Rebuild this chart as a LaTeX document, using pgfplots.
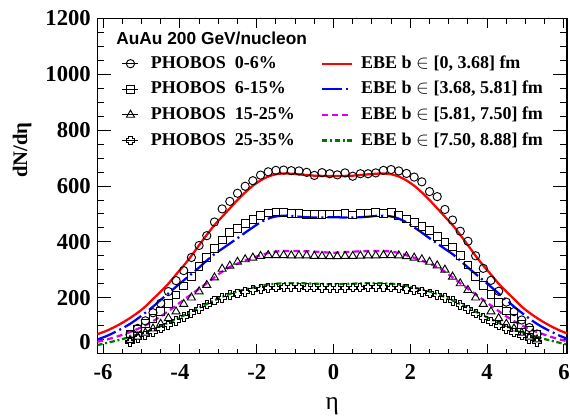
\documentclass[border=0pt]{standalone}
\usepackage{fontspec}
\setmainfont{Liberation Serif}
\newfontfamily\helv{Liberation Sans}
\usepackage{pgfplots}
\pgfplotsset{compat=1.18}

\definecolor{ebered}{RGB}{255,0,0}
\definecolor{ebeblue}{RGB}{0,0,255}
\definecolor{ebemag}{RGB}{215,0,235}
\definecolor{ebegreen}{RGB}{0,120,0}

\pgfdeclareplotmark{ocross}{%
  \pgfpathmoveto{\pgfqpoint{-0.36\pgfplotmarksize}{\pgfplotmarksize}}%
  \pgfpathlineto{\pgfqpoint{0.36\pgfplotmarksize}{\pgfplotmarksize}}%
  \pgfpathlineto{\pgfqpoint{0.36\pgfplotmarksize}{0.36\pgfplotmarksize}}%
  \pgfpathlineto{\pgfqpoint{\pgfplotmarksize}{0.36\pgfplotmarksize}}%
  \pgfpathlineto{\pgfqpoint{\pgfplotmarksize}{-0.36\pgfplotmarksize}}%
  \pgfpathlineto{\pgfqpoint{0.36\pgfplotmarksize}{-0.36\pgfplotmarksize}}%
  \pgfpathlineto{\pgfqpoint{0.36\pgfplotmarksize}{-\pgfplotmarksize}}%
  \pgfpathlineto{\pgfqpoint{-0.36\pgfplotmarksize}{-\pgfplotmarksize}}%
  \pgfpathlineto{\pgfqpoint{-0.36\pgfplotmarksize}{-0.36\pgfplotmarksize}}%
  \pgfpathlineto{\pgfqpoint{-\pgfplotmarksize}{-0.36\pgfplotmarksize}}%
  \pgfpathlineto{\pgfqpoint{-\pgfplotmarksize}{0.36\pgfplotmarksize}}%
  \pgfpathlineto{\pgfqpoint{-0.36\pgfplotmarksize}{0.36\pgfplotmarksize}}%
  \pgfpathclose
  \pgfusepathqstroke
}

\pgfplotsset{
  markleg/.style={legend image code/.code={\path (0pt,0pt) -- (12pt,0pt); \draw[##1] plot coordinates {(6pt,0pt)};}},
  lineleg/.style={legend image code/.code={\draw[##1] (0pt,0pt) -- (22.5pt,0pt);}},
}

\begin{document}
\begin{tikzpicture}
\begin{axis}[
  scale only axis, width=352.3pt, height=251.25pt,
  xmin=-6.15, xmax=6.08, ymin=0, ymax=1200,
  axis line style={line width=0.9pt},
  tick align=inside,
  major tick length=6.75pt, minor tick length=3.75pt,
  every tick/.style={black, line width=0.7pt},
  ytick style={/pgfplots/major tick length=10.5pt, /pgfplots/minor tick length=5.3pt},
  xtick={-6,-4,-2,0,2,4,6}, xticklabels={-6,-4,-2,0,2,4,6},
  ytick={0,200,400,600,800,1000,1200}, yticklabels={,200,400,600,800,1000,1200},
  extra y ticks={0}, extra y tick labels={0},
  extra y tick style={yticklabel style={yshift=8.5pt}},
  minor x tick num=3, minor y tick num=3,
  ticklabel style={font=\fontsize{17}{20}\selectfont\bfseries},
  xticklabel style={inner sep=0pt, anchor=north, yshift=-8.3pt},
  yticklabel style={inner sep=0pt, anchor=east, xshift=-4.7pt},
  xlabel={η},
  xlabel style={at={(axis description cs:0.5,-0.1657)}, anchor=base, font=\fontsize{19}{22}\selectfont},
  ylabel={dN/dη},
  ylabel style={at={(axis description cs:-0.1497,0.607)}, anchor=base, font=\fontsize{15.5}{18}\selectfont\bfseries},
  legend columns=4, transpose legend, legend cell align=left,
  legend style={draw=none, fill=none, at={(rel axis cs:0.0526,0.891)}, anchor=north west,
    inner sep=0pt, outer sep=0pt, row sep=6.2pt,
    nodes={inner sep=0pt, text height=10pt, text depth=3pt, font=\fontsize{13.5}{16}\selectfont\bfseries},
    /tikz/column 1/.style={column sep=9pt},
    /tikz/column 2/.style={column sep=19.5pt},
    /tikz/column 3/.style={column sep=6pt}},
]
% PHOBOS 0-6%
\addplot[only marks, mark=o, mark size=3.1pt, black, line width=0.7pt, markleg]
 coordinates {(-5.3,68)(-5.1,90)(-4.9,117)(-4.7,146)(-4.5,180)(-4.3,222)(-4.1,261)(-3.9,297)(-3.7,344)(-3.5,387)(-3.3,422)(-3.1,471)(-2.9,518)(-2.7,545)(-2.5,574)(-2.3,599)(-2.1,619)(-1.9,639)(-1.7,651)(-1.5,656)(-1.3,657)(-1.1,655)(-0.9,654)(-0.7,649)(-0.5,638)(-0.3,648)(-0.1,644)(0.1,640)(0.3,647)(0.5,635)(0.7,644)(0.9,644)(1.1,647)(1.3,656)(1.5,659)(1.7,654)(1.9,645)(2.1,632)(2.3,615)(2.5,580)(2.7,562)(2.9,516)(3.1,478)(3.3,438)(3.5,402)(3.7,350)(3.9,305)(4.1,262)(4.3,223)(4.5,184)(4.7,150)(4.9,120)(5.1,93)(5.3,70)};
\addlegendentry{PHOBOS\hspace{0.5em}0-6\%}
% PHOBOS 6-15%
\addplot[only marks, mark=square, mark size=2.9pt, black, line width=0.7pt, markleg]
 coordinates {(-5.3,70)(-5.1,88)(-4.9,107)(-4.7,126)(-4.5,150)(-4.3,180)(-4.1,210)(-3.9,242)(-3.7,275)(-3.5,312)(-3.3,345)(-3.1,375)(-2.9,407)(-2.7,433)(-2.5,448)(-2.3,466)(-2.1,479)(-1.9,495)(-1.7,503)(-1.5,507)(-1.3,504)(-1.1,502)(-0.9,501)(-0.7,498)(-0.5,498)(-0.3,499)(-0.1,500)(0.1,500)(0.3,501)(0.5,496)(0.7,502)(0.9,503)(1.1,504)(1.3,502)(1.5,505)(1.7,495)(1.9,482)(2.1,470)(2.3,455)(2.5,440)(2.7,420)(2.9,400)(3.1,382)(3.3,352)(3.5,317)(3.7,276)(3.9,243)(4.1,212)(4.3,182)(4.5,152)(4.7,126)(4.9,103)(5.1,84)(5.3,67)};
\addlegendentry{PHOBOS\hspace{0.5em}6-15\%}
% PHOBOS 15-25%
\addplot[only marks, mark=triangle, mark size=3.5pt, black, line width=0.7pt, markleg]
 coordinates {(-5.3,48)(-5.1,60)(-4.9,74)(-4.7,89)(-4.5,106)(-4.3,126)(-4.1,150)(-3.9,177)(-3.7,200)(-3.5,222)(-3.3,245)(-3.1,272)(-2.9,303)(-2.7,314)(-2.5,328)(-2.3,337)(-2.1,343)(-1.9,349)(-1.7,352)(-1.5,352)(-1.3,352)(-1.1,351)(-0.9,351)(-0.7,351)(-0.5,349)(-0.3,349)(-0.1,348)(0.1,348)(0.3,349)(0.5,349)(0.7,350)(0.9,351)(1.1,351)(1.3,352)(1.5,352)(1.7,351)(1.9,348)(2.1,343)(2.3,337)(2.5,328)(2.7,315)(2.9,300)(3.1,275)(3.3,251)(3.5,227)(3.7,200)(3.9,177)(4.1,150)(4.3,126)(4.5,106)(4.7,89)(4.9,74)(5.1,60)(5.3,50)};
\addlegendentry{PHOBOS\hspace{0.5em}15-25\%}
% PHOBOS 25-35%
\addplot[only marks, mark=ocross, mark size=3.2pt, black, line width=0.7pt, markleg]
 coordinates {(-5.3,42)(-5.1,54)(-4.9,65)(-4.7,76)(-4.5,89)(-4.3,101)(-4.1,116)(-3.9,130)(-3.7,144)(-3.5,160)(-3.3,175)(-3.1,190)(-2.9,199)(-2.7,209)(-2.5,215)(-2.3,221)(-2.1,227)(-1.9,232)(-1.7,235)(-1.5,236)(-1.3,237)(-1.1,237)(-0.9,237)(-0.7,236)(-0.5,236)(-0.3,235)(-0.1,234)(0.1,234)(0.3,235)(0.5,236)(0.7,236)(0.9,237)(1.1,237)(1.3,237)(1.5,236)(1.7,235)(1.9,232)(2.1,227)(2.3,221)(2.5,215)(2.7,209)(2.9,199)(3.1,189)(3.3,174)(3.5,158)(3.7,143)(3.9,128)(4.1,114)(4.3,100)(4.5,88)(4.7,75)(4.9,64)(5.1,52)(5.3,42)};
\addlegendentry{PHOBOS\hspace{0.5em}25-35\%}
% EBE red
\addplot[ebered, line width=1.7pt, smooth, no marks, lineleg]
 coordinates {(-6.15,69)(-5.9,82)(-5.7,95)(-5.5,110)(-5.3,127)(-5.1,146)(-4.9,168)(-4.7,195)(-4.5,222)(-4.3,250)(-4.1,283)(-3.9,315)(-3.7,350)(-3.5,388)(-3.3,425)(-3.1,460)(-2.9,490)(-2.7,520)(-2.5,550)(-2.3,577)(-2.1,601)(-1.9,620)(-1.7,634)(-1.5,642)(-1.3,645)(-1.0,643)(-0.5,637)(0,636)(0.5,637)(1.0,643)(1.3,645)(1.5,642)(1.7,634)(1.9,620)(2.1,601)(2.3,577)(2.5,550)(2.7,520)(2.9,490)(3.1,460)(3.3,425)(3.5,388)(3.7,350)(3.9,315)(4.1,283)(4.3,250)(4.5,222)(4.7,195)(4.9,168)(5.1,146)(5.3,127)(5.5,110)(5.7,95)(5.9,82)(6.08,72)};
\addlegendentry{EBE b $\in$ [0, 3.68] fm}
% EBE blue
\addplot[ebeblue, line width=1.7pt, smooth, no marks, dash pattern=on 15pt off 3pt on 1.5pt off 3pt, lineleg]
 coordinates {(-6.15,50)(-5.9,63)(-5.7,76)(-5.5,90)(-5.3,106)(-5.1,125)(-4.9,146)(-4.7,168)(-4.5,192)(-4.3,215)(-4.1,239)(-3.9,262)(-3.7,285)(-3.5,308)(-3.3,333)(-3.1,356)(-2.9,375)(-2.7,394)(-2.5,413)(-2.3,433)(-2.1,452)(-1.9,470)(-1.7,483)(-1.5,491)(-1.2,494)(-0.9,490)(-0.5,487)(0,488)(0.5,487)(0.9,490)(1.2,494)(1.5,491)(1.7,483)(1.9,470)(2.1,452)(2.3,433)(2.5,413)(2.7,394)(2.9,375)(3.1,356)(3.3,333)(3.5,308)(3.7,285)(3.9,262)(4.1,239)(4.3,215)(4.5,192)(4.7,168)(4.9,146)(5.1,125)(5.3,106)(5.5,90)(5.7,76)(5.9,63)(6.08,53)};
\addlegendentry{EBE b $\in$ [3.68, 5.81] fm}
% EBE magenta
\addplot[ebemag, line width=1.7pt, smooth, no marks, dash pattern=on 4.5pt off 3pt, lineleg]
 coordinates {(-6.15,42)(-5.9,50)(-5.7,58)(-5.5,67)(-5.3,77)(-5.1,88)(-4.9,101)(-4.7,116)(-4.5,133)(-4.3,152)(-4.1,172)(-3.9,192)(-3.7,212)(-3.5,232)(-3.3,252)(-3.1,273)(-2.9,293)(-2.7,310)(-2.5,322)(-2.3,333)(-2.1,343)(-1.9,352)(-1.7,360)(-1.5,365)(-1.3,367)(-0.9,367)(-0.5,365)(0,361)(0.5,365)(0.9,367)(1.3,367)(1.5,365)(1.7,360)(1.9,352)(2.1,343)(2.3,333)(2.5,322)(2.7,310)(2.9,293)(3.1,273)(3.3,252)(3.5,232)(3.7,212)(3.9,192)(4.1,172)(4.3,152)(4.5,133)(4.7,116)(4.9,101)(5.1,88)(5.3,77)(5.5,67)(5.7,58)(5.9,50)(6.08,44)};
\addlegendentry{EBE b $\in$ [5.81, 7.50] fm}
% EBE green
\addplot[ebegreen, line width=1.7pt, smooth, no marks, dash pattern=on 4pt off 2pt on 1.5pt off 2pt, lineleg]
 coordinates {(-6.15,30)(-5.9,38)(-5.6,48)(-5.3,59)(-5.0,72)(-4.7,87)(-4.4,104)(-4.1,123)(-3.8,143)(-3.5,164)(-3.2,184)(-2.9,203)(-2.6,218)(-2.3,230)(-2.0,239)(-1.8,245)(-1.5,250)(-1.0,252)(-0.5,250)(0,248)(0.5,250)(1.0,252)(1.5,250)(1.8,245)(2.0,239)(2.3,230)(2.6,218)(2.9,203)(3.2,184)(3.5,164)(3.8,143)(4.1,123)(4.4,104)(4.7,87)(5.0,72)(5.3,59)(5.6,48)(5.9,38)(6.08,32)};
\addlegendentry{EBE b $\in$ [7.50, 8.88] fm}
\node[anchor=base west, inner sep=0pt, font=\helv\bfseries\fontsize{13}{15}\selectfont] at (rel axis cs:0.0398,0.921) {AuAu 200 GeV/nucleon};
\coordinate (bl) at (rel axis cs:0,0);
\coordinate (tr) at (rel axis cs:1,1);
\end{axis}
\pgfresetboundingbox
\path ([shift={(-73pt,-47.6pt)}]bl) rectangle ([shift={(2.25pt,13.9pt)}]tr);
\end{tikzpicture}
\end{document}
